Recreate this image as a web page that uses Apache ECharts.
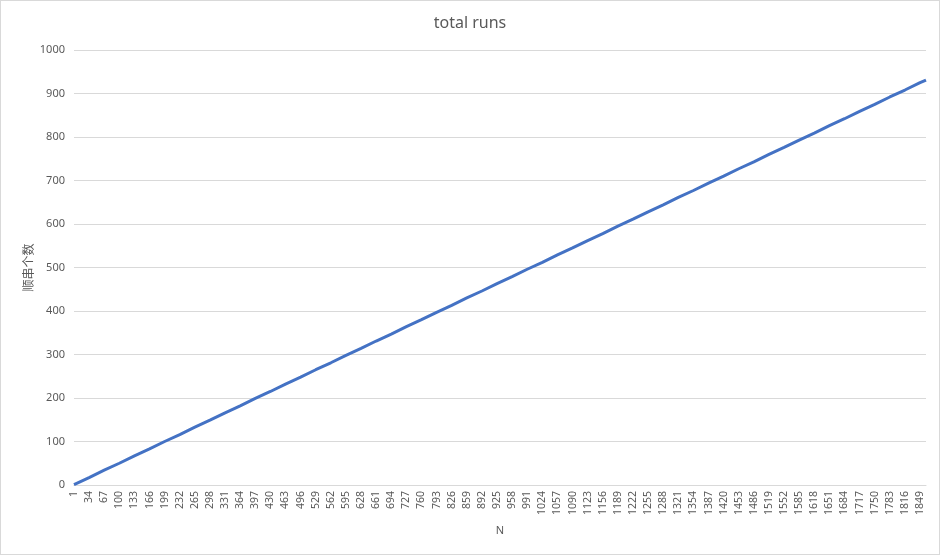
<!DOCTYPE html>
<html>
<head>
<meta charset="utf-8">
<script src="https://cdn.jsdelivr.net/npm/echarts@6/dist/echarts.min.js"></script>
<style>
html,body{margin:0;padding:0;background:#fff;}
#c{width:938px;height:553px;border:1px solid #d9d9d9;}
</style>
</head>
<body>
<div id="c"></div>
<script>
// N runs from 1 to lastN (category axis)
const firstN = 1;
const lastN = 1862;
// sampled readings of the line (N, total runs)
const sampleN = [1,34,67,100,133,166,199,232,265,298,331,364,397,430,463,496,529,562,595,628,661,694,727,760,793,826,859,892,925,958,991,1024,1057,1090,1123,1156,1189,1222,1255,1288,1321,1354,1387,1420,1453,1486,1519,1552,1585,1618,1651,1684,1717,1750,1783,1816,1849,1862];
const sampleRuns = [1,17,34,50,67,83,100,116,133,149,166,182,199,215,232,248,265,281,298,314,331,347,364,380,397,413,430,446,463,479,496,512,529,545,562,578,595,611,628,644,661,677,694,710,727,743,760,776,793,809,826,842,859,875,892,908,925,931];
const yTicks = {min:0, max:1000, interval:100};

const categories = [];
for (let n = firstN; n <= lastN; n++) categories.push(String(n));
const seriesData = sampleN.map((n,i)=>[String(n), sampleRuns[i]]);

const font = '"Noto Sans", "Noto Sans CJK SC", sans-serif';
const chart = echarts.init(document.getElementById('c'));
chart.setOption({
  animation:false,
  title:{text:'total runs', left:'center', top:9,
    textStyle:{color:'#595959', fontSize:16, fontWeight:'normal', fontFamily:font}},
  grid:{left:73, right:13, top:49, bottom:69},
  xAxis:{
    type:'category', data:categories, boundaryGap:false,
    name:'N', nameLocation:'middle', nameGap:40,
    nameTextStyle:{color:'#595959', fontSize:11, fontFamily:font},
    axisLine:{lineStyle:{color:'#d9d9d9'}},
    axisTick:{show:false},
    axisLabel:{interval:32, rotate:90, color:'#595959', fontSize:10.5, fontFamily:font, margin:6},
    splitLine:{show:false}
  },
  yAxis:{
    type:'value', min:yTicks.min, max:yTicks.max, interval:yTicks.interval,
    name:'顺串个数', nameLocation:'middle', nameGap:38, nameRotate:90,
    nameMoveOverlap:false,
    nameTextStyle:{color:'#595959', fontSize:12, fontFamily:font},
    axisLine:{show:false}, axisTick:{show:false},
    axisLabel:{color:'#595959', fontSize:11, fontFamily:font, margin:9, formatter:v=>String(v)},
    splitLine:{lineStyle:{color:'#d9d9d9'}}
  },
  series:[{
    type:'line', data:seriesData, showSymbol:false, symbol:'none',
    connectNulls:true,
    lineStyle:{color:'#4472C4', width:3}
  }]
});
</script>
</body>
</html>
